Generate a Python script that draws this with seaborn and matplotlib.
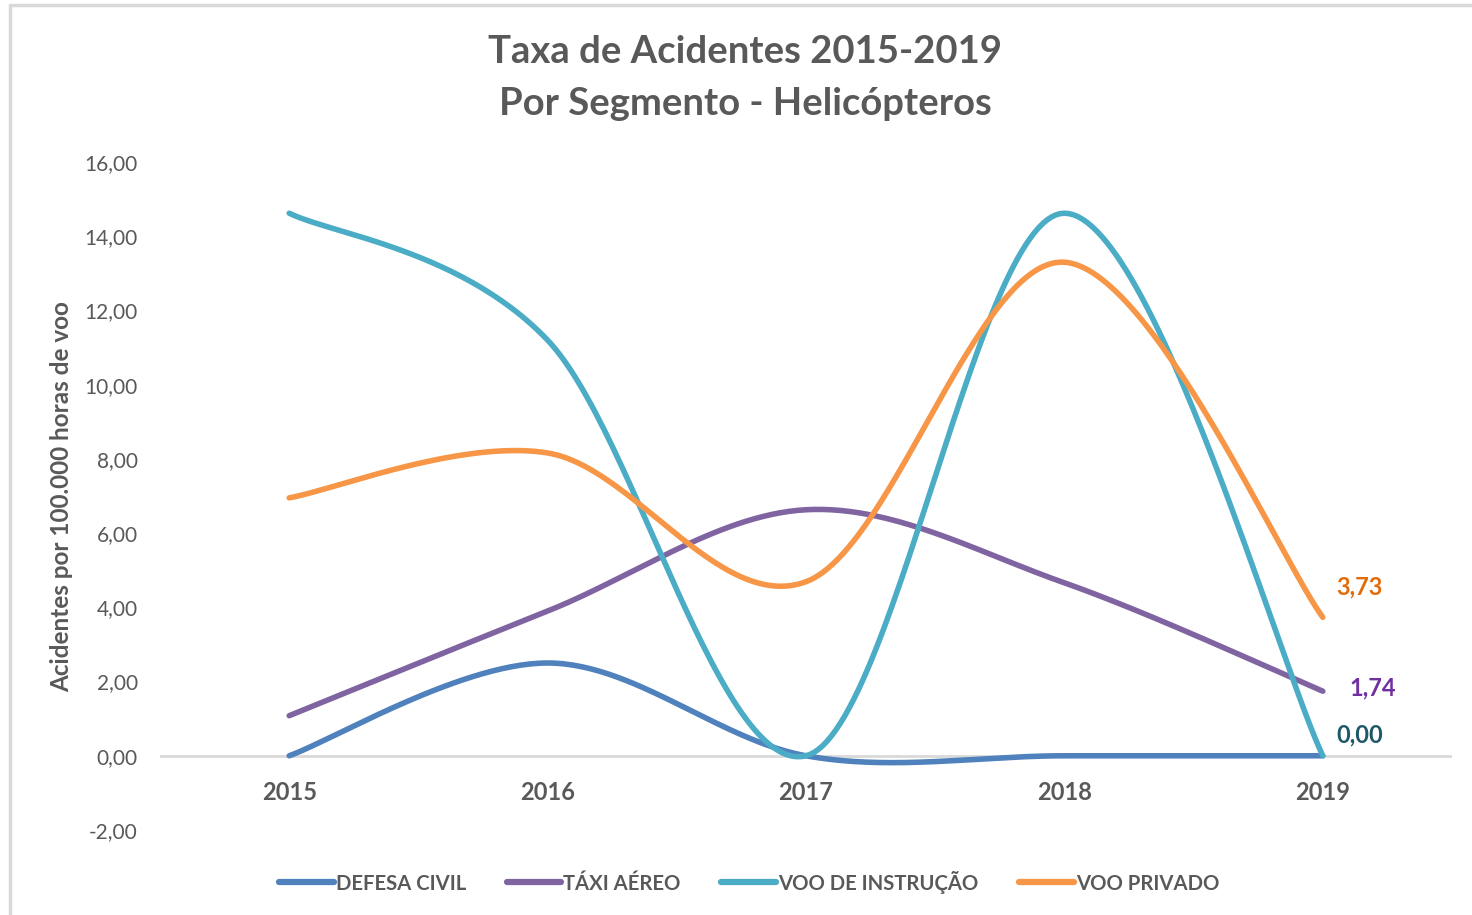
import numpy as np
import pandas as pd
import matplotlib
matplotlib.use("Agg")
import matplotlib.pyplot as plt
import seaborn as sns
from matplotlib.lines import Line2D

years = [2015, 2016, 2017, 2018, 2019]
series_names = ["DEFESA CIVIL", "TÁXI AÉREO", "VOO DE INSTRUÇÃO", "VOO PRIVADO"]
defesa_civil = [0.00, 2.50, 0.00, 0.00, 0.00]
taxi_aereo = [1.08, 3.90, 6.63, 4.66, 1.74]
voo_instrucao = [14.62, 11.20, 0.00, 14.62, 0.00]
voo_privado = [6.95, 8.16, 4.69, 13.30, 3.73]
yticks = [-2, 0, 2, 4, 6, 8, 10, 12, 14, 16]

colors = ["#4F81BD", "#8064A2", "#4BACC6", "#F79646"]
label_colors = {"VOO PRIVADO": "#E36C09", "TÁXI AÉREO": "#7030A0", "VOO DE INSTRUÇÃO": "#1F5968"}
gray = "#595959"


def excel_smooth(xs, ys, n=60):
    xs = np.asarray(xs, float)
    ys = np.asarray(ys, float)
    P = np.column_stack([xs, ys])
    out = []
    m = len(P)
    for i in range(m - 1):
        p0 = P[i - 1] if i > 0 else P[i]
        p1 = P[i]
        p2 = P[i + 1]
        p3 = P[i + 2] if i + 2 < m else P[i + 1]
        c1 = p1 + (p2 - p0) / 6.0
        c2 = p2 - (p3 - p1) / 6.0
        t = np.linspace(0, 1, n, endpoint=(i == m - 2))[:, None]
        b = ((1 - t) ** 3) * p1 + 3 * ((1 - t) ** 2) * t * c1 + 3 * (1 - t) * t ** 2 * c2 + t ** 3 * p2
        out.append(b)
    out = np.vstack(out)
    return out[:, 0], out[:, 1]


all_values = [defesa_civil, taxi_aereo, voo_instrucao, voo_privado]
frames = []
for name, vals in zip(series_names, all_values):
    sx, sy = excel_smooth(years, vals)
    frames.append(pd.DataFrame({"ano": sx, "taxa": sy, "segmento": name}))
df = pd.concat(frames, ignore_index=True)

sns.set_theme(style="white")
plt.rcParams["font.family"] = ["Lato", "DejaVu Sans"]

W, H = 1472, 915
fig = plt.figure(figsize=(W / 100, H / 100), dpi=100)
ax = fig.add_axes([160 / W, 1 - 830 / H, (1452 - 160) / W, (830 - 162) / H])

ax.axhline(0, color="#D9D9D9", lw=2, zorder=1)

sns.lineplot(data=df, x="ano", y="taxa", hue="segmento", hue_order=series_names,
             palette=colors, sort=False, estimator=None, units="segmento",
             lw=4, legend=False, ax=ax, zorder=3, solid_capstyle="round")

ax.set_xlim(2014.5, 2019.5)
ax.set_ylim(-2, 16)
ax.set_yticks(yticks)
ax.set_yticklabels([f"{v:.2f}".replace(".", ",") for v in yticks], fontsize=15, color=gray)
ax.set_xticks([])
for yr in years:
    ax.text(yr, -1.0, str(yr), ha="center", va="center", fontsize=17, fontweight="bold", color=gray)
ax.tick_params(axis="y", length=0, pad=16)
ax.set_xlabel("")
ax.set_ylabel("")
for s in ax.spines.values():
    s.set_visible(False)
ax.patch.set_alpha(0)

fig.text(62 / W, 1 - 497 / H, "Acidentes por 100.000 horas de voo", rotation=90,
         ha="center", va="center", fontsize=17.5, fontweight="bold", color=gray)

fig.text(745 / W, 1 - 52 / H, "Taxa de Acidentes 2015-2019", ha="center", va="center",
         fontsize=27.5, fontweight="bold", color=gray)
fig.text(745 / W, 1 - 104 / H, "Por Segmento - Helicópteros", ha="center", va="center",
         fontsize=27.5, fontweight="bold", color=gray)

# data labels at last point
offsets = {"VOO PRIVADO": (37, 30), "TÁXI AÉREO": (50, 3), "VOO DE INSTRUÇÃO": (37, 21)}
for name, vals in zip(series_names, all_values):
    if name in offsets:
        dx, dy = offsets[name]
        ax.annotate(f"{vals[-1]:.2f}".replace(".", ","), (years[-1], vals[-1]),
                    xytext=(dx * 0.72, dy * 0.72), textcoords="offset points",
                    ha="center", va="center", fontsize=17, fontweight="bold",
                    color=label_colors[name])

handles = [Line2D([0], [0], color=c, lw=4.5, solid_capstyle="round") for c in colors]
leg = fig.legend(handles, series_names, loc="center", bbox_to_anchor=(749 / W, 1 - 882 / H),
                 ncol=4, frameon=False, handlelength=2.7, handletextpad=0.1, columnspacing=2.0,
                 prop={"family": ["Lato"], "weight": "bold", "size": 14.6})
for t in leg.get_texts():
    t.set_color(gray)

# chart border (top and left visible)
fig.add_artist(Line2D([10 / W, 10 / W], [0, 1 - 5 / H], color="#D9D9D9", lw=2.5, transform=fig.transFigure))
fig.add_artist(Line2D([10 / W, 1], [1 - 5 / H, 1 - 5 / H], color="#D9D9D9", lw=2.5, transform=fig.transFigure))

fig.savefig("out.png", dpi=100, facecolor="white")
